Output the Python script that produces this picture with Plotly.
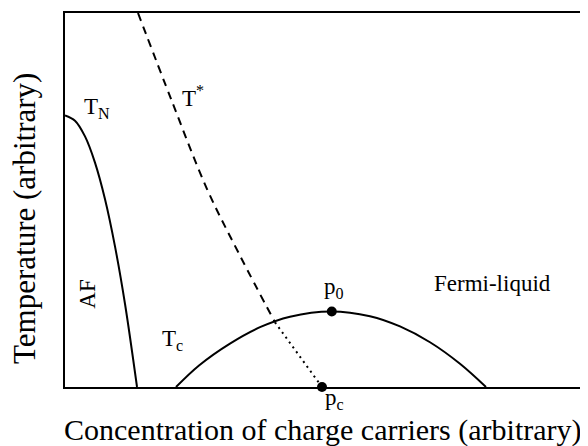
import plotly.graph_objects as go

# Data (arbitrary units, 0-100 on both axes)
tn_x = [0, 1.93, 3.87, 5.80, 7.74, 9.67, 11.61, 13.93]
tn_y = [72.6, 71.2, 67.0, 60.0, 50.2, 37.6, 22.2, 0]

tc_x = [21.47, 25.92, 31.91, 37.72, 43.52, 51.45, 58.99, 64.80, 70.60, 76.40, 81.43]
tc_y = [0, 5.77, 11.62, 15.99, 18.80, 20.21, 18.94, 16.20, 11.97, 6.22, 0]

tstar_x = [14.12, 20.70, 27.47, 33.85, 40.62]
tstar_y = [100, 76.33, 52.93, 35.11, 17.29]

tstar_dot_x = [40.62, 49.71]
tstar_dot_y = [17.29, 0]

pts_x = [51.6, 49.71]
pts_y = [20.2, 0]

FONT = "Liberation Serif, Times New Roman, serif"

fig = go.Figure()
fig.add_trace(go.Scatter(x=tn_x, y=tn_y, mode="lines", line=dict(color="black", width=2, shape="spline"),
                         hoverinfo="skip"))
fig.add_trace(go.Scatter(x=tc_x, y=tc_y, mode="lines", line=dict(color="black", width=2, shape="spline"),
                         hoverinfo="skip"))
fig.add_trace(go.Scatter(x=tstar_x, y=tstar_y, mode="lines",
                         line=dict(color="black", width=2, shape="spline", dash="8px,6px"), hoverinfo="skip"))
fig.add_trace(go.Scatter(x=tstar_dot_x, y=tstar_dot_y, mode="lines",
                         line=dict(color="black", width=2, dash="2px,4px"), hoverinfo="skip"))
fig.add_trace(go.Scatter(x=pts_x, y=pts_y, mode="markers", marker=dict(color="black", size=10),
                         cliponaxis=False, hoverinfo="skip"))

def lab(x, y, text, size=23, xanchor="left", ref="", **kw):
    fig.add_annotation(x=x, y=y, xref=ref or "x", yref=ref or "y", text=text, showarrow=False,
                       xanchor=xanchor, yanchor="middle",
                       font=dict(family=FONT, size=size, color="black"), **kw)

lab(3.3, 74.7, "T<sub>N</sub>")
lab(22.2, 77.7, "T<sup>*</sup>")
lab(4.45, 24.7, "AF", xanchor="center", textangle=-90)
lab(18.4, 12.5, "T<sub>c</sub>")
lab(49.7, 26.4, "p<sub>0</sub>")
lab(82.6, 27.7, "Fermi-liquid", xanchor="center")
lab(0.499, -0.031, "p<sub>c</sub>", ref="paper")

fig.add_annotation(x=0.499, y=-0.1145, xref="paper", yref="paper", showarrow=False,
                   xanchor="center", yanchor="middle",
                   text="Concentration of charge carriers (arbitrary)",
                   font=dict(family=FONT, size=30, color="black"))
fig.add_annotation(x=-0.0774, y=0.452, xref="paper", yref="paper", showarrow=False,
                   xanchor="center", yanchor="middle",
                   text="Temperature (arbitrary)", textangle=-90,
                   font=dict(family=FONT, size=31, color="black"))

axis = dict(range=[0, 100], showline=True, mirror=True, linecolor="black", linewidth=2,
            showgrid=False, zeroline=False, showticklabels=False, ticks="", fixedrange=True)
# page body has an 8px margin, so the figure is sized/offset to place the frame where the reference has it
fig.update_layout(
    width=580, height=438,
    margin=dict(l=57, r=6, t=3, b=59),
    paper_bgcolor="white", plot_bgcolor="white",
    showlegend=False,
    xaxis=axis, yaxis=axis,
)
fig.write_html("out.html")
